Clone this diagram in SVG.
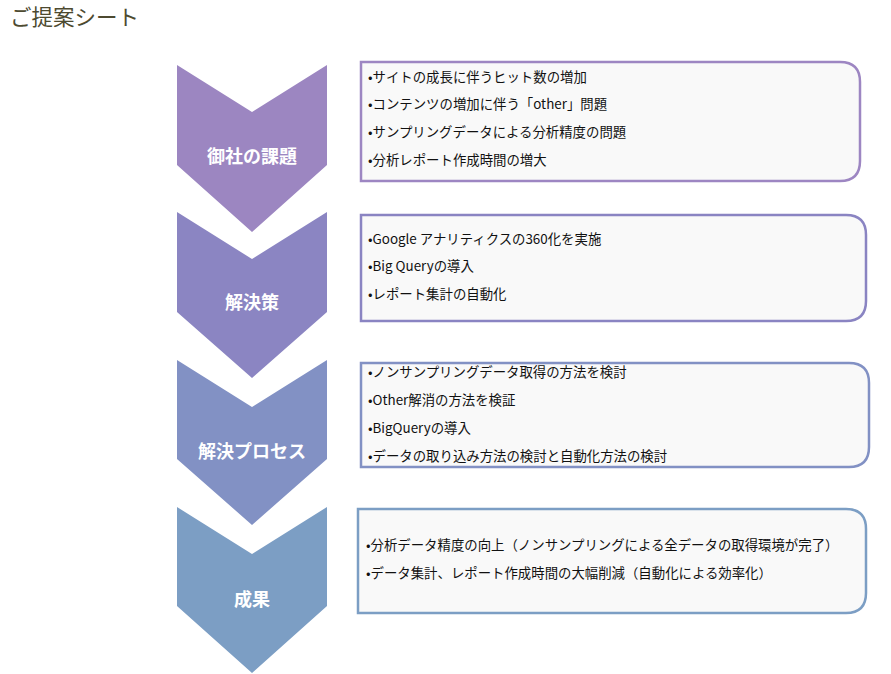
<svg xmlns="http://www.w3.org/2000/svg" width="891" height="674" viewBox="0 0 891 674">
<style>
text{font-family:"Noto Sans CJK JP","Open Sans",sans-serif}
.t{font-size:13.4px;fill:#111}
.l{font-size:18px;font-weight:bold;fill:#fff}
.b{fill:#f9f9f9;stroke-width:2.5}
</style>
<rect width="891" height="674" fill="#fff"/>
<text x="10" y="25" font-size="21.5" fill="#4d4a30">ご提案シート</text>
<g id="n1"><path d="M177,65 L252,112 L327,65 L327,165 L252,232 L177,165Z" fill="#9c86c1"/><text class="l" x="252" y="163" text-anchor="middle">御社の課題</text></g>
<g id="n2"><path d="M177,212 L252,259 L327,212 L327,312 L252,378 L177,312Z" fill="#8b85c2"/><text class="l" x="252" y="309" text-anchor="middle">解決策</text></g>
<g id="n3"><path d="M177,360 L252,407 L327,360 L327,459 L252,525 L177,459Z" fill="#8291c4"/><text class="l" x="252" y="458" text-anchor="middle">解決プロセス</text></g>
<g id="n4"><path d="M177,507 L252,554 L327,507 L327,606 L252,673 L177,606Z" fill="#7c9ec4"/><text class="l" x="252" y="606" text-anchor="middle">成果</text></g>
<g id="b1"><path class="b" stroke="#9d86c2" d="M361,62 H840 Q860,62 860,82 V161 Q860,181 840,181 H361Z"/>
<text class="t" x="368" y="82">•サイトの成長に伴うヒット数の増加</text>
<text class="t" x="368" y="109">•コンテンツの増加に伴う「other」問題</text>
<text class="t" x="368" y="137">•サンプリングデータによる分析精度の問題</text>
<text class="t" x="368" y="165">•分析レポート作成時間の増大</text></g>
<g id="b2"><path class="b" stroke="#8a84c2" d="M361,215 H846 Q866,215 866,235 V301 Q866,321 846,321 H361Z"/>
<text class="t" x="368" y="244">•Google アナリティクスの360化を実施</text>
<text class="t" x="368" y="271">•Big Queryの導入</text>
<text class="t" x="368" y="299">•レポート集計の自動化</text></g>
<g id="b3"><path class="b" stroke="#8291c4" d="M361,363 H849 Q869,363 869,383 V447 Q869,467 849,467 H361Z"/>
<text class="t" x="368" y="377">•ノンサンプリングデータ取得の方法を検討</text>
<text class="t" x="368" y="405">•Other解消の方法を検証</text>
<text class="t" x="368" y="433">•BigQueryの導入</text>
<text class="t" x="368" y="461">•データの取り込み方法の検討と自動化方法の検討</text></g>
<g id="b4"><path class="b" stroke="#7c9ec4" d="M358,509 H846 Q866,509 866,529 V593 Q866,613 846,613 H358Z"/>
<text class="t" x="366" y="550">•分析データ精度の向上（ノンサンプリングによる全データの取得環境が完了）</text>
<text class="t" x="366" y="578">•データ集計、レポート作成時間の大幅削減（自動化による効率化）</text></g>
<g id="connectors"/>
</svg>
